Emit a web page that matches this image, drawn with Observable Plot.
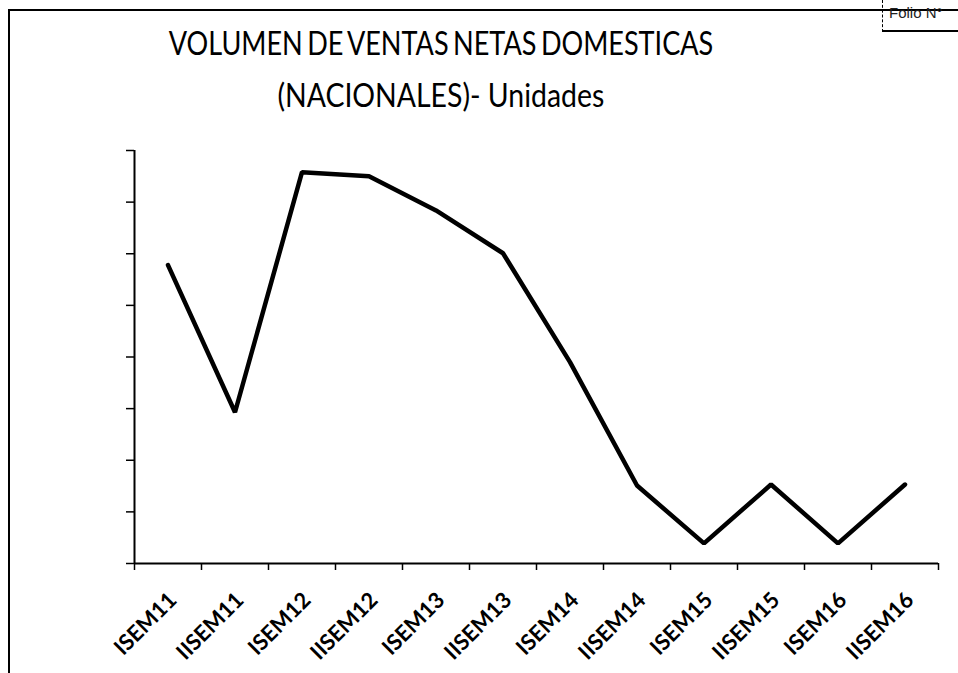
<!DOCTYPE html>
<html>
<head>
<meta charset="utf-8">
<script src="https://cdn.jsdelivr.net/npm/d3@7"></script>
<script src="https://cdn.jsdelivr.net/npm/@observablehq/plot@0.6"></script>
<style>
  html, body { margin: 0; padding: 0; background: #fff; }
  #wrap { position: relative; width: 958px; height: 673px; overflow: hidden; }
  #frame { position: absolute; left: 8px; top: 9px; width: 960px; height: 700px;
           border-left: 2px solid #000; border-top: 2px solid #000; }
  #title { position: relative; height: 130px; box-sizing: border-box; padding-top: 16px;
           text-align: center; font-family: Lato, "Open Sans", sans-serif; font-size: 33px;
           line-height: 52px; color: #000; width: 882px;
           transform: scaleX(0.82); transform-origin: 441px 0; white-space: nowrap; }
  #title .l1 { word-spacing: -3px; }
  #title .l2 { display: inline-block; transform: scaleX(1.05); }
  #stamp { position: absolute; left: 882px; top: 0px; width: 90px; height: 30px;
           border-left: 1px dashed #000; border-bottom: 2px solid #000;
           font-family: "Liberation Sans", sans-serif; font-size: 15px; padding-left: 6px; line-height: 26px; color: #222; }
</style>
</head>
<body>
<div id="wrap">
  <div id="frame"></div>
  <div id="stamp">Folio N°</div>
  <div id="title"><span class="l1">VOLUMEN DE VENTAS NETAS DOMESTICAS</span><br><span class="l2">(NACIONALES)- Unidades</span></div>
  <div id="chart"></div>
</div>
<script>
const periods = ["ISEM11","IISEM11","ISEM12","IISEM12","ISEM13","IISEM13","ISEM14","IISEM14","ISEM15","IISEM15","ISEM16","IISEM16"];
const volumes = [5.78, 2.93, 7.58, 7.50, 6.84, 6.01, 3.90, 1.51, 0.39, 1.53, 0.39, 1.53];
const yTicks = [0, 1, 2, 3, 4, 5, 6, 7, 8];

const data = periods.map((p, i) => ({i, p, v: volumes[i]}));
const boundaries = d3.range(periods.length + 1).map(k => k - 0.5);

const chart = Plot.plot({
  width: 958,
  height: 543,
  marginTop: 20,
  marginBottom: 110,
  marginLeft: 134,
  marginRight: 20,
  x: {domain: [-0.5, periods.length - 0.5]},
  y: {domain: [0, 8]},
  style: {background: "transparent", color: "#000"},
  marks: [
    Plot.axisY({ticks: yTicks, tickFormat: () => "", tickSize: 8, strokeWidth: 1.5, label: null}),
    Plot.axisX({ticks: boundaries, tickFormat: () => "", tickSize: 7, strokeWidth: 1.5, label: null}),
    Plot.ruleX([-0.5], {strokeWidth: 2}),
    Plot.ruleY([0], {x1: -0.5, x2: periods.length - 0.5, strokeWidth: 2}),
    Plot.line(data, {x: "i", y: "v", stroke: "#000", strokeWidth: 4.5, strokeLinejoin: "miter"}),
    Plot.text(data, {x: "i", y: () => 0, text: "p", rotate: -45, textAnchor: "end",
      dx: 5, dy: 33, fontSize: 22, fontWeight: "bold", fontFamily: "Lato, sans-serif"})
  ]
});
document.getElementById("chart").appendChild(chart);
</script>
</body>
</html>
